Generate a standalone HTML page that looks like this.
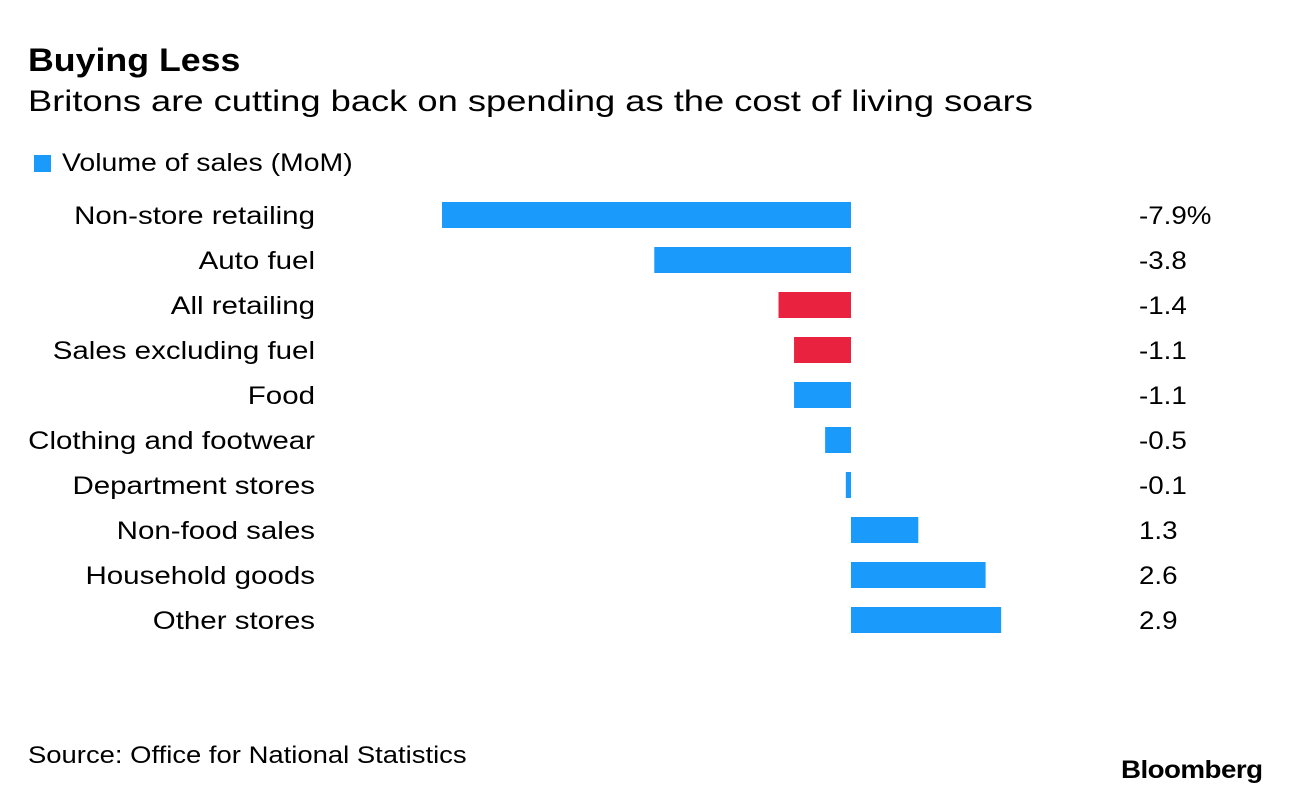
<!DOCTYPE html>
<html><head><meta charset="utf-8"><style>
body{margin:0;background:#fff;font-family:"Liberation Sans",Arial,sans-serif;}
#wrap{position:relative;width:1289px;height:796px;overflow:hidden;}
.t{position:absolute;white-space:nowrap;color:#000;transform-origin:left top;}
</style></head><body>
<div id="wrap">
<div class="t" style="left:28px;top:42px;font-size:32px;font-weight:bold;transform:scaleX(1.116);">Buying Less</div>
<div class="t" style="left:28px;top:85px;font-size:30px;transform:scaleX(1.21);">Britons are cutting back on spending as the cost of living soars</div>
<div style="position:absolute;left:34px;top:155px;width:17px;height:17px;background:#1a9bfc;"></div>
<div class="t" style="left:62px;top:149px;font-size:25px;transform:scaleX(1.137);">Volume of sales (MoM)</div>
<svg id="chart" width="1289" height="796" style="position:absolute;left:0;top:0;"></svg>
<div class="t" style="left:28px;top:742px;font-size:24px;transform:scaleX(1.143);">Source: Office for National Statistics</div>
<div class="t" style="left:1121px;top:756px;font-size:25px;font-weight:bold;letter-spacing:-0.5px;transform:scaleX(1.11);">Bloomberg</div>
</div>
<script>
const categories=["Non-store retailing","Auto fuel","All retailing","Sales excluding fuel","Food","Clothing and footwear","Department stores","Non-food sales","Household goods","Other stores"];
const values=[-7.9,-3.8,-1.4,-1.1,-1.1,-0.5,-0.1,1.3,2.6,2.9];
const labels=["-7.9%","-3.8","-1.4","-1.1","-1.1","-0.5","-0.1","1.3","2.6","2.9"];
const highlighted=["All retailing","Sales excluding fuel"];
const svg=document.getElementById('chart');
const NS="http://www.w3.org/2000/svg";
const x=v=>851+v*51.77;
const y=i=>215+i*45;
categories.forEach((c,i)=>{
  const v=values[i];
  const r=document.createElementNS(NS,'rect');
  
  
  r.setAttribute('x',Math.min(x(0),x(v)));
  r.setAttribute('y',y(i)-13);
  r.setAttribute('width',Math.max(Math.abs(x(v)-x(0)),5));
  r.setAttribute('height',26);
  r.setAttribute('fill',highlighted.includes(c)?'#e8223f':'#1a9bfc');
  svg.appendChild(r);
  const t=document.createElementNS(NS,'text');
  
  
  t.setAttribute('x',315);t.setAttribute('y',y(i)+9);
  t.setAttribute('text-anchor','end');t.setAttribute('font-size','25');
  t.setAttribute('transform','translate(315,0) scale(1.18,1) translate(-315,0)');
  t.textContent=c;svg.appendChild(t);
  const l=document.createElementNS(NS,'text');
  
  
  l.setAttribute('x',1139);l.setAttribute('y',y(i)+9);
  l.setAttribute('font-size','25');
  l.setAttribute('transform','translate(1139,0) scale(1.11,1) translate(-1139,0)');
  l.textContent=labels[i];svg.appendChild(l);
});
</script>
</body></html>
